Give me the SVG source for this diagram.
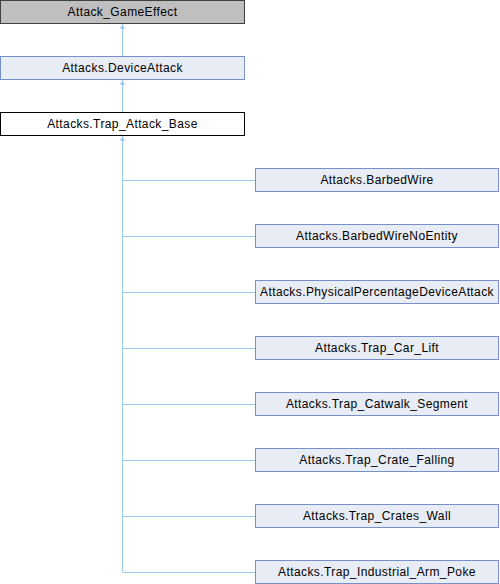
<svg xmlns="http://www.w3.org/2000/svg" width="500" height="584" viewBox="0 0 500 584">
<defs>
<marker id="arr" viewBox="0 0 10 10" refX="10" refY="5" markerWidth="5" markerHeight="5" markerUnits="userSpaceOnUse" orient="auto">
<path d="M0,0 L10,5 L0,10 z" fill="#9CCBE9"/>
</marker>
<style>
.n rect{fill:#E8ECF5;stroke:#7690C8;stroke-width:1}
.g rect{fill:#BFBFBF;stroke:#404040}
.w rect{fill:#FFFFFF;stroke:#000000}
text{font-family:"Liberation Sans",Arial,sans-serif;font-size:12px;letter-spacing:0.4px;fill:#000;text-anchor:middle}
.c{stroke:#9CCBE9;stroke-width:1;fill:none}
</style>
</defs>
<rect width="500" height="584" fill="#fff"/>
<g id="connectors">
<line class="c" x1="122.5" y1="56.5" x2="122.5" y2="24" marker-end="url(#arr)"/>
<line class="c" x1="122.5" y1="112.5" x2="122.5" y2="80" marker-end="url(#arr)"/>
<line class="c" x1="122.5" y1="572" x2="122.5" y2="136" marker-end="url(#arr)"/>
<path class="c" d="M122.5,180.5H255 M122.5,236.5H255 M122.5,292.5H255 M122.5,348.5H255 M122.5,404.5H255 M122.5,460.5H255 M122.5,516.5H255 M122.5,572.5H255"/>
</g>
<g id="Attack_GameEffect" class="n g"><rect x="0.5" y="0.5" width="244" height="23"/><text x="122.5" y="16">Attack_GameEffect</text></g>
<g id="DeviceAttack" class="n"><rect x="0.5" y="56.5" width="244" height="23"/><text x="122.5" y="72">Attacks.DeviceAttack</text></g>
<g id="Trap_Attack_Base" class="n w"><rect x="0.5" y="112.5" width="244" height="23"/><text x="122.5" y="128">Attacks.Trap_Attack_Base</text></g>
<g id="BarbedWire" class="n"><rect x="255.5" y="168.5" width="243" height="23"/><text x="377" y="184">Attacks.BarbedWire</text></g>
<g id="BarbedWireNoEntity" class="n"><rect x="255.5" y="224.5" width="243" height="23"/><text x="377" y="240">Attacks.BarbedWireNoEntity</text></g>
<g id="PhysicalPercentageDeviceAttack" class="n"><rect x="255.5" y="280.5" width="243" height="23"/><text x="377" y="296">Attacks.PhysicalPercentageDeviceAttack</text></g>
<g id="Trap_Car_Lift" class="n"><rect x="255.5" y="336.5" width="243" height="23"/><text x="377" y="352">Attacks.Trap_Car_Lift</text></g>
<g id="Trap_Catwalk_Segment" class="n"><rect x="255.5" y="392.5" width="243" height="23"/><text x="377" y="408">Attacks.Trap_Catwalk_Segment</text></g>
<g id="Trap_Crate_Falling" class="n"><rect x="255.5" y="448.5" width="243" height="23"/><text x="377" y="464">Attacks.Trap_Crate_Falling</text></g>
<g id="Trap_Crates_Wall" class="n"><rect x="255.5" y="504.5" width="243" height="23"/><text x="377" y="520">Attacks.Trap_Crates_Wall</text></g>
<g id="Trap_Industrial_Arm_Poke" class="n"><rect x="255.5" y="560.5" width="243" height="23"/><text x="377" y="576">Attacks.Trap_Industrial_Arm_Poke</text></g>
</svg>
